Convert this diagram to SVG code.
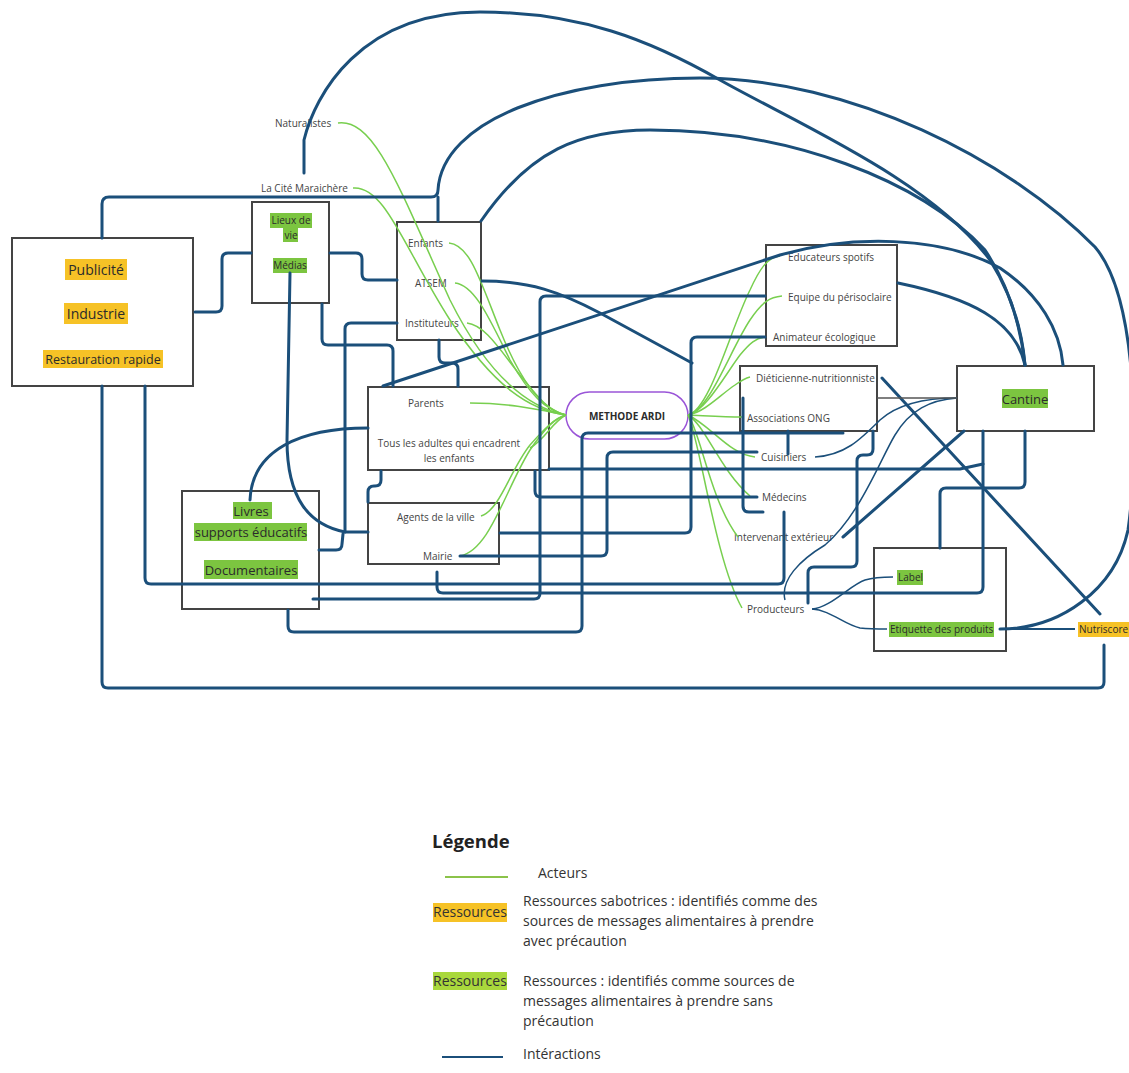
<svg xmlns="http://www.w3.org/2000/svg" width="1129" height="1073" viewBox="0 0 1129 1073">
<style>
text{font-family:"Open Sans","Noto Sans",sans-serif}
.box{fill:#fff;stroke:#444;stroke-width:2}
.lbl{font-size:10px;fill:#444}
.big{font-size:13px;fill:#2b2b2b}
.hy{fill:#f6c226}
.hg{fill:#7cc540}
.hgl{fill:#a9d83c}
.link{fill:none;stroke:#1b4f7a;stroke-width:3;stroke-linecap:round;stroke-linejoin:round}
.thin{fill:none;stroke:#1b4f7a;stroke-width:1.5}
.actor{fill:none;stroke:#78cf4f;stroke-width:1.5}
.leg{font-size:14px;fill:#333}
</style>
<rect width="1129" height="1073" fill="#fff"/>

<g id="node-publicite">
<rect class="box" x="12" y="238" width="181" height="148"/>
<rect class="hy" x="65" y="259" width="62" height="21"/>
<rect class="hy" x="64" y="303" width="64" height="21"/>
<rect class="hy" x="43" y="350" width="120" height="18"/>
<text class="big" x="96" y="275" text-anchor="middle" style="font-size:14px">Publicité</text>
<text class="big" x="96" y="319" text-anchor="middle" style="font-size:14px">Industrie</text>
<text class="big" x="103" y="364" text-anchor="middle" style="font-size:12.5px">Restauration rapide</text>
</g>

<g id="node-lieux">
<rect class="box" x="252" y="202" width="77" height="101"/>
<rect class="hg" x="270" y="213" width="42" height="15"/>
<rect class="hg" x="283" y="227" width="15" height="15"/>
<rect class="hg" x="273" y="258" width="34" height="15"/>
<text class="lbl" x="291" y="224" text-anchor="middle" style="fill:#2b2b2b">Lieux de</text>
<text class="lbl" x="291" y="239" text-anchor="middle" style="fill:#2b2b2b">vie</text>
<text class="lbl" x="290" y="269" text-anchor="middle" style="fill:#2b2b2b">Médias</text>
</g>

<g id="node-naturalistes"><text class="lbl" x="275" y="127">Naturalistes</text></g>
<g id="node-cite"><text class="lbl" x="261" y="192">La Cité Maraichère</text></g>

<g id="node-enfants">
<rect class="box" x="397" y="222" width="84" height="118"/>
<text class="lbl" x="408" y="247">Enfants</text>
<text class="lbl" x="415" y="287">ATSEM</text>
<text class="lbl" x="405" y="327">Instituteurs</text>
</g>

<g id="node-parents">
<rect class="box" x="368" y="387" width="181" height="83"/>
<text class="lbl" x="408" y="407">Parents</text>
<text class="lbl" x="449" y="447" text-anchor="middle">Tous les adultes qui encadrent</text>
<text class="lbl" x="449" y="462" text-anchor="middle">les enfants</text>
</g>

<g id="node-agents">
<rect class="box" x="368" y="503" width="131" height="61"/>
<text class="lbl" x="397" y="521">Agents de la ville</text>
<text class="lbl" x="423" y="560">Mairie</text>
</g>

<g id="node-livres">
<rect class="box" x="182" y="491" width="137" height="118"/>
<rect class="hg" x="233" y="502" width="39" height="17"/>
<rect class="hg" x="194" y="523" width="113" height="18"/>
<rect class="hg" x="204" y="560" width="94" height="19"/>
<text class="big" x="251" y="516" text-anchor="middle">Livres</text>
<text class="big" x="251" y="537" text-anchor="middle">supports éducatifs</text>
<text class="big" x="251" y="575" text-anchor="middle">Documentaires</text>
</g>

<g id="node-ardi">
<rect x="566" y="392" width="122" height="47" rx="23.5" fill="#fff" stroke="#9a55d8" stroke-width="1.5"/>
<text x="627" y="420" text-anchor="middle" style="font-size:10px;font-weight:bold;fill:#2b2b2b">METHODE ARDI</text>
</g>

<g id="node-educateurs">
<rect class="box" x="766" y="245" width="131" height="101"/>
<text class="lbl" x="788" y="261">Educateurs spotifs</text>
<text class="lbl" x="788" y="301">Equipe du périsoclaire</text>
<text class="lbl" x="773" y="341">Animateur écologique</text>
</g>

<g id="node-dieticienne">
<rect class="box" x="740" y="366" width="137" height="65"/>
<text class="lbl" x="756" y="382">Diéticienne-nutritionniste</text>
<text class="lbl" x="747" y="422">Associations ONG</text>
</g>

<g id="node-cuisiniers"><text class="lbl" x="761" y="461">Cuisiniers</text></g>
<g id="node-medecins"><text class="lbl" x="762" y="501">Médecins</text></g>
<g id="node-intervenant"><text class="lbl" x="734" y="541">Intervenant extérieur</text></g>
<g id="node-producteurs"><text class="lbl" x="747" y="613">Producteurs</text></g>

<g id="node-cantine">
<rect class="box" x="957" y="366" width="137" height="65"/>
<rect class="hg" x="1002" y="389" width="46" height="19"/>
<text class="big" x="1025" y="404" text-anchor="middle">Cantine</text>
</g>

<g id="node-label">
<rect class="box" x="874" y="548" width="132" height="103"/>
<rect class="hg" x="897" y="570" width="26" height="15"/>
<rect class="hg" x="889" y="622" width="105" height="15"/>
<text class="lbl" x="898" y="581" style="fill:#2b2b2b">Label</text>
<text class="lbl" x="890" y="633" style="fill:#2b2b2b">Etiquette des produits</text>
</g>

<g id="node-nutriscore">
<rect class="hy" x="1078" y="622" width="51" height="15"/>
<text class="lbl" x="1079" y="633" style="fill:#2b2b2b">Nutriscore</text>
</g>

<g id="connectors">
<!-- actor lines (green) -->
<path class="actor" d="M338,123 C375,118 400,190 450,300 C490,380 530,408 566,415"/>
<path class="actor" d="M353,188 C385,185 405,250 450,320 C495,388 530,410 566,415"/>
<path class="actor" d="M449,243 C470,245 480,280 500,330 C520,380 540,408 566,415"/>
<path class="actor" d="M455,283 C475,285 490,320 510,360 C530,395 545,410 566,415"/>
<path class="actor" d="M467,323 C485,325 500,350 520,375 C540,400 550,412 566,415"/>
<path class="actor" d="M470,403 C510,403 540,410 566,415"/>
<path class="actor" d="M530,448 C545,440 552,422 566,415"/>
<path class="actor" d="M481,516 C500,510 510,470 530,445 C545,428 555,418 566,415"/>
<path class="actor" d="M460,556 C490,550 505,490 530,450 C545,428 555,418 566,415"/>
<path class="actor" d="M688,415 C710,410 730,330 750,290 C760,268 768,257 780,256"/>
<path class="actor" d="M688,415 C710,410 730,350 750,320 C762,302 770,297 782,296"/>
<path class="actor" d="M688,415 C705,412 725,375 740,355 C750,343 756,338 765,337"/>
<path class="actor" d="M688,415 C705,412 720,395 735,385 C742,380 746,378 750,377"/>
<path class="actor" d="M688,415 C710,416 725,417 742,417"/>
<path class="actor" d="M688,415 C710,425 730,455 755,457"/>
<path class="actor" d="M688,415 C705,425 720,470 750,496"/>
<path class="actor" d="M688,415 C700,430 710,500 738,537"/>
<path class="actor" d="M688,415 C700,440 715,560 742,608"/>

<!-- interactions (blue) -->
<path class="link" d="M304,173 L304,140 C315,95 360,12 480,12 C580,12 650,40 720,80 C800,125 930,180 990,260 C1012,295 1022,330 1025,365"/>
<path class="link" d="M102,238 L102,204 Q102,197 109,197 L431,197 Q438,197 438,190 C442,120 560,78 700,78 C850,78 1010,160 1095,247 C1140,300 1138,460 1128,530 C1115,590 1060,629 1000,629"/>
<path class="link" d="M438,197 L438,221"/>
<path class="link" d="M481,221 C530,150 580,130 650,130 C790,130 920,180 985,250 C1005,280 1020,320 1025,365"/>
<path class="link" d="M383,386 L780,255 C850,235 940,235 1000,268 C1040,295 1060,330 1063,365"/>
<path class="link" d="M898,283 C970,298 1015,320 1025,365"/>
<path class="link" d="M195,312 L216,312 Q222,312 222,306 L222,259 Q222,253 228,253 L251,253"/>
<path class="link" d="M330,253 L356,253 Q362,253 362,259 L362,274 Q362,280 368,280 L397,280"/>
<path class="link" d="M322,304 L322,339 Q322,345 328,345 L387,345 Q393,345 393,351 L393,386"/>
<path class="link" d="M397,323 L351,323 Q345,323 345,329 L345,532 L368,532"/>
<path class="link" d="M290,273 L287,440 C287,500 310,525 345,532"/>
<path class="link" d="M319,550 L336,550 Q342,550 342,544 L343,534"/>
<path class="link" d="M439,340 L439,357 Q439,363 445,363 L452,363 Q458,363 458,369 L458,386"/>
<path class="link" d="M368,428 C300,428 252,450 250,500"/>
<path class="link" d="M381,471 L381,480 Q381,486 375,486 L374,486 Q368,486 368,492 L368,502"/>
<path class="link" d="M482,281 C530,281 560,292 600,313 L692,363"/>
<path class="link" d="M765,337 L697,337 Q691,337 691,343 L691,527 Q691,533 685,533 L500,533"/>
<path class="link" d="M765,296 L546,296 Q540,296 540,302 L540,593 Q540,599 534,599 L313,599"/>
<path class="link" d="M535,471 L535,491 Q535,497 541,497 L757,497"/>
<path class="link" d="M549,469 L960,469 L983,464"/>
<path class="link" d="M288,610 L288,626 Q288,632 294,632 L576,632 Q582,632 582,626 L582,439 Q582,433 588,433 L843,433"/>
<path class="link" d="M460,556 L601,556 Q607,556 607,550 L607,458 Q607,452 613,452 L757,452"/>
<path class="link" d="M145,386 L145,578 Q145,584 151,584 L778,584 Q784,584 784,578 L784,512"/>
<path class="link" d="M437,572 L437,587 Q437,593 443,593 L977,593 Q983,593 983,587 L983,431"/>
<path class="link" d="M102,386 L102,682 Q102,688 108,688 L1098,688 Q1104,688 1104,682 L1104,645"/>
<path class="link" d="M743,398 L743,506 Q743,512 749,512 L763,512"/>
<path class="link" d="M788,431 L788,454"/>
<path class="link" d="M873,431 L873,449 Q873,455 867,455 L863,455 Q857,455 857,461 L857,561 Q857,567 851,567 L814,567 Q808,567 808,573 L808,603"/>
<path class="link" d="M1025,431 L1025,482 Q1025,488 1019,488 L946,488 Q940,488 940,494 L940,548"/>
<path class="link" d="M882,378 L1100,614"/>
<path class="link" d="M843,537 L964,431"/>
<path class="thin" d="M815,457 C845,455 860,440 880,420 C900,402 930,398 957,398"/>
<path class="thin" d="M785,600 C780,580 800,560 825,545 C860,515 880,460 895,435 C910,410 930,400 957,398"/>
<path class="thin" d="M812,609 C830,608 850,585 865,580 C875,577 885,577 893,577"/>
<path class="thin" d="M812,609 C830,610 845,625 860,628 C870,629 880,629 887,629"/>
<path d="M877,398 L957,398" fill="none" stroke="#555" stroke-width="1.5"/>
<path d="M1001,629 L1075,629" fill="none" stroke="#1b4f7a" stroke-width="2"/>
</g>

<g id="legend">
<text x="432" y="848" style="font-size:18.5px;font-weight:bold;fill:#222">Légende</text>
<path d="M445,877 L508,877" stroke="#8bc34a" stroke-width="2"/>
<text class="leg" x="538" y="878">Acteurs</text>
<rect class="hy" x="433" y="903" width="74" height="19"/>
<text class="leg" x="433" y="917">Ressources</text>
<text class="leg" x="523" y="906">Ressources sabotrices : identifiés comme des</text>
<text class="leg" x="523" y="926">sources de messages alimentaires à prendre</text>
<text class="leg" x="523" y="946">avec précaution</text>
<rect class="hgl" x="433" y="972" width="74" height="18"/>
<text class="leg" x="433" y="986">Ressources</text>
<text class="leg" x="523" y="986">Ressources : identifiés comme sources de</text>
<text class="leg" x="523" y="1006">messages alimentaires à prendre sans</text>
<text class="leg" x="523" y="1026">précaution</text>
<path d="M442,1057 L503,1057" stroke="#1b4f7a" stroke-width="2"/>
<text class="leg" x="523" y="1059">Intéractions</text>
</g>
</svg>
